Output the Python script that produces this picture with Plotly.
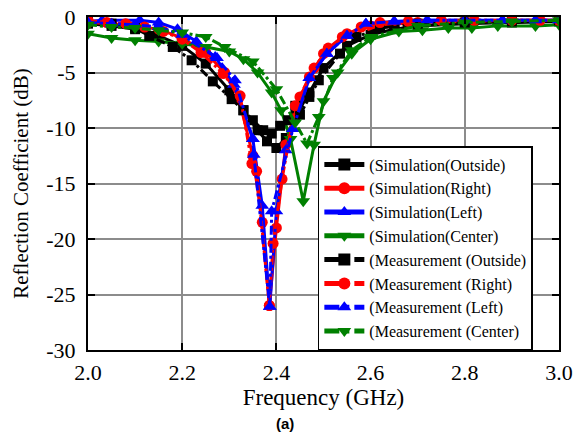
import plotly.graph_objects as go

# frequency (GHz) / reflection coefficient (dB)
sim_outside_f = [2.00, 2.05, 2.10, 2.15, 2.20, 2.25, 2.30, 2.33, 2.36, 2.38, 2.40, 2.42, 2.44, 2.47, 2.50, 2.55, 2.60, 2.65, 2.70, 2.80, 2.90, 3.00]
sim_outside = [-0.6, -0.8, -1.1, -1.7, -2.6, -4.2, -6.6, -8.4, -10.2, -11.2, -11.8, -10.9, -9.0, -6.8, -4.6, -2.6, -1.6, -1.1, -0.8, -0.6, -0.5, -0.4]

sim_right_f = [2.00, 2.05, 2.10, 2.15, 2.20, 2.25, 2.29, 2.32, 2.35, 2.37, 2.385, 2.40, 2.42, 2.45, 2.48, 2.51, 2.55, 2.60, 2.70, 2.80, 2.90, 3.00]
sim_right = [-0.5, -0.6, -0.8, -1.1, -1.9, -3.2, -5.0, -7.3, -12.5, -18.5, -26.0, -19.0, -11.5, -7.2, -4.6, -2.8, -1.5, -0.8, -0.5, -0.4, -0.3, -0.3]

sim_left_f = [2.00, 2.03, 2.11, 2.15, 2.19, 2.23, 2.27, 2.31, 2.35, 2.37, 2.386, 2.40, 2.42, 2.435, 2.47, 2.507, 2.55, 2.59, 2.65, 2.72, 2.80, 2.88, 2.95, 3.00]
sim_left = [-0.4, -0.3, -0.3, -0.5, -1.1, -2.2, -3.6, -6.1, -11.0, -17.0, -26.1, -17.5, -12.0, -10.1, -5.5, -3.3, -1.7, -0.6, -0.4, -0.3, -0.3, -0.3, -0.3, -0.3]

sim_center_f = [2.00, 2.05, 2.10, 2.15, 2.20, 2.25, 2.30, 2.33, 2.36, 2.39, 2.41, 2.43, 2.457, 2.48, 2.50, 2.53, 2.56, 2.60, 2.66, 2.71, 2.765, 2.815, 2.87, 2.95, 3.00]
sim_center = [-1.5, -1.9, -2.1, -2.2, -2.4, -2.7, -3.1, -3.8, -5.0, -6.8, -8.4, -11.0, -16.6, -11.5, -7.6, -5.0, -3.3, -2.0, -1.3, -1.2, -1.0, -1.0, -0.8, -0.8, -0.7]

meas_outside_f = [2.00, 2.05, 2.10, 2.13, 2.18, 2.22, 2.265, 2.305, 2.33, 2.35, 2.372, 2.39, 2.408, 2.425, 2.44, 2.45, 2.47, 2.49, 2.535, 2.57, 2.62, 2.70, 2.80, 2.90, 3.00]
meas_outside = [-0.4, -0.6, -1.0, -1.7, -2.7, -3.9, -5.8, -7.4, -8.4, -9.3, -10.2, -10.5, -9.8, -9.3, -8.0, -8.8, -7.2, -5.7, -3.3, -1.8, -1.0, -0.6, -0.5, -0.4, -0.3]

meas_right_f = [2.00, 2.04, 2.08, 2.12, 2.16, 2.20, 2.24, 2.287, 2.323, 2.348, 2.358, 2.385, 2.393, 2.412, 2.44, 2.47, 2.50, 2.54, 2.58, 2.62, 2.68, 2.75, 2.82, 2.90, 2.96, 3.00]
meas_right = [-0.3, -0.5, -0.6, -0.9, -1.3, -2.0, -3.2, -5.1, -7.1, -13.2, -13.9, -26.0, -20.4, -14.6, -8.0, -5.4, -3.3, -1.8, -0.9, -0.5, -0.4, -0.3, -0.3, -0.3, -0.3, -0.3]

meas_left_f = [2.00, 2.05, 2.10, 2.15, 2.20, 2.274, 2.312, 2.35, 2.352, 2.386, 2.39, 2.435, 2.47, 2.507, 2.55, 2.59, 2.65, 2.72, 2.80, 2.88, 2.95, 3.00]
meas_left = [-0.5, -0.6, -0.7, -0.9, -1.6, -3.7, -5.7, -11.0, -12.4, -26.1, -17.5, -10.1, -5.5, -3.3, -1.7, -0.6, -0.4, -0.3, -0.3, -0.3, -0.3, -0.3]

meas_center_f = [2.00, 2.05, 2.10, 2.15, 2.20, 2.25, 2.29, 2.35, 2.40, 2.44, 2.465, 2.49, 2.52, 2.56, 2.60, 2.70, 2.80, 2.90, 3.00]
meas_center = [-0.7, -0.9, -1.0, -1.2, -1.4, -1.8, -2.7, -4.0, -6.5, -9.5, -11.4, -9.0, -5.5, -3.0, -1.8, -0.8, -0.5, -0.4, -0.3]

y_ticks = [0, -5, -10, -15, -20, -25, -30]
y_tick_text = ["0", "-5", "-10", "-15", "-20", "-25", "-30"]

series = [
    ("(Simulation(Outside)", sim_outside_f, sim_outside, "black", "square", "solid", 10),
    ("(Simulation(Right)", sim_right_f, sim_right, "red", "circle", "solid", 11),
    ("(Simulation(Left)", sim_left_f, sim_left, "blue", "triangle-up", "solid", 12),
    ("(Simulation(Center)", sim_center_f, sim_center, "green", "triangle-down", "solid", 12),
    ("(Measurement (Outside)", meas_outside_f, meas_outside, "black", "square", "dashdot", 10),
    ("(Measurement (Right)", meas_right_f, meas_right, "red", "circle", "dashdot", 11),
    ("(Measurement (Left)", meas_left_f, meas_left, "blue", "triangle-up", "dashdot", 12),
    ("(Measurement (Center)", meas_center_f, meas_center, "green", "triangle-down", "dashdot", 12),
]

fig = go.Figure()
for name, f, v, color, symbol, dash, size in series:
    fig.add_trace(go.Scatter(
        x=f, y=v, name=name, mode="lines+markers",
        line=dict(color=color, width=3, dash=dash),
        marker=dict(color=color, symbol=symbol, size=size),
    ))

SERIF = "Liberation Serif"
tick_font = dict(family=SERIF, size=22, color="black")

# page body has an 8px margin, so the margins are shifted by 8px
fig.update_layout(
    width=584, height=439,
    margin=dict(l=80, r=33, t=9, b=97),
    paper_bgcolor="white", plot_bgcolor="white",
    font=dict(family=SERIF, color="black"),
    legend=dict(
        x=0.488, y=0, xanchor="left", yanchor="bottom",
        bgcolor="white", bordercolor="black", borderwidth=1.5,
        font=dict(family=SERIF, size=16, color="black"),
        tracegroupgap=0, itemwidth=40, itemsizing="constant",
    ),
    annotations=[dict(
        text="<b>(a)</b>", x=0.418, y=-0.222, xref="paper", yref="paper",
        xanchor="center", yanchor="middle",
        showarrow=False, font=dict(family="Liberation Sans", size=15, color="black"),
    )],
)
fig.update_xaxes(
    range=[2.0, 3.0], dtick=0.2, tickformat=".1f", automargin=False,
    title=dict(text="Frequency (GHz)", font=dict(family=SERIF, size=23, color="black"), standoff=0),
    tickfont=tick_font, ticklabelstandoff=2,
    showline=True, linecolor="black", linewidth=2, mirror="ticks",
    ticks="inside", ticklen=7, tickwidth=2, tickcolor="black",
    showgrid=True, gridcolor="#8c8c8c", gridwidth=1.5, zeroline=False,
)
fig.update_yaxes(
    range=[-30, 0], tickvals=y_ticks, ticktext=y_tick_text, automargin=False,
    title=dict(text="Reflection Coefficient (dB)", font=dict(family=SERIF, size=21, color="black"), standoff=12),
    tickfont=tick_font, ticklabelstandoff=6, ticklabeloverflow="allow",
    showline=True, linecolor="black", linewidth=2, mirror="ticks",
    ticks="inside", ticklen=7, tickwidth=2, tickcolor="black",
    showgrid=True, gridcolor="#8c8c8c", gridwidth=1.5, zeroline=False,
)

fig.write_html("out.html")
